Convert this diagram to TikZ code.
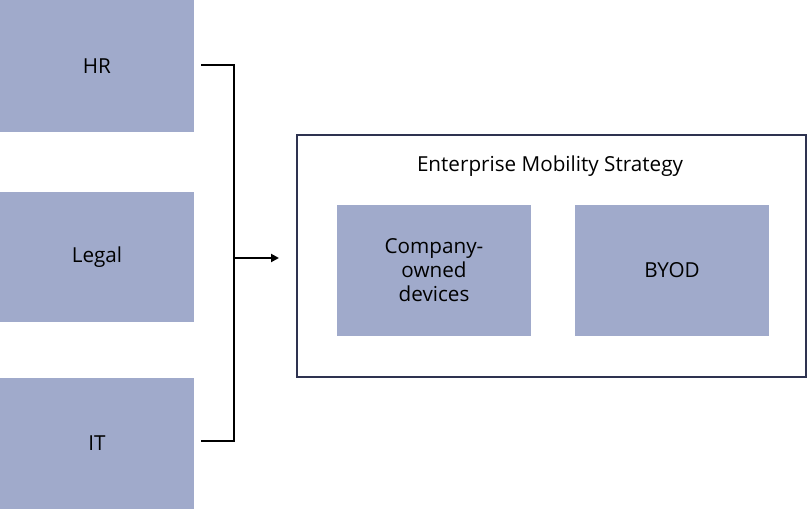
\documentclass[tikz,border=0pt]{standalone}
\usepackage{fontspec}
\setmainfont{Open Sans}
\usetikzlibrary{arrows.meta}
\definecolor{boxfill}{HTML}{A0AACB}
\definecolor{frame}{HTML}{2E3350}
\tikzset{
  card/.style={fill=boxfill, draw=none, minimum width=194*0.75pt, minimum height=131*0.75pt, inner sep=0pt, align=center, font=\fontsize{15.5}{18}\selectfont, text=black},
  link/.style={line width=1.5pt, black},
}
\begin{document}
\begin{tikzpicture}[x=0.75pt,y=-0.75pt]
\useasboundingbox (0,0) rectangle (807,509);
\node[card, minimum height=132*0.75pt] (hr) at (97,66) {HR};
\node[card, minimum height=130*0.75pt] (legal) at (97,257) {Legal};
\node[card] (it) at (97,443.5) {IT};
\node[draw=frame, line width=1.5pt, minimum width=509*0.75pt, minimum height=242*0.75pt, inner sep=0pt] (ems) at (551,256.5) {};
\node[font=\fontsize{15.5}{18}\selectfont] (title) at (550,166) {Enterprise Mobility Strategy};
\node[card] (cod) at (434,270.5) {Company-\\owned\\devices};
\node[card] (byod) at (672,270.5) {BYOD};
\coordinate (hrend) at (201,65);
\coordinate (itend) at (201,441);
\coordinate (j1) at (234,65);
\coordinate (j2) at (234,441);
\coordinate (jm) at (234,258);
\coordinate (tip) at (279,258);
\draw[link] (hrend) -- (j1) -- (j2) -- (itend);
\draw[link, -{Triangle[length=6pt,width=6pt]}] (jm) -- (tip);
\end{tikzpicture}
\end{document}
